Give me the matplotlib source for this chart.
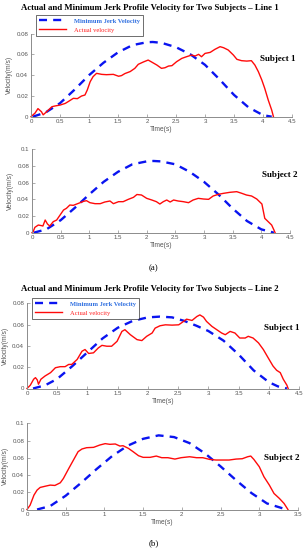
import numpy as np
import matplotlib.pyplot as plt
from matplotlib.ticker import FormatStrFormatter

# ---- data ----
# Line 1, subject 1
l1s1_mj_t = [0.03, 0.25, 0.5, 0.75, 1.0, 1.25, 1.5, 1.75, 2.0, 2.1, 2.25, 2.5, 2.75, 3.0, 3.25, 3.5, 3.75, 4.0, 4.15]
l1s1_mj_v = [0.0, 0.004, 0.013, 0.026, 0.040, 0.052, 0.062, 0.069, 0.0718, 0.072, 0.0712, 0.067, 0.060, 0.050, 0.036, 0.021, 0.009, 0.0015, 0.0]
l1s1_t = [0.0, 0.07, 0.12, 0.18, 0.21, 0.27, 0.36, 0.41, 0.5, 0.59, 0.64, 0.73, 0.8, 0.87, 0.93, 0.97,
          1.02, 1.07, 1.13, 1.22, 1.3, 1.42, 1.51, 1.56, 1.62, 1.71, 1.79, 1.85, 1.94, 2.02, 2.08, 2.17,
          2.25, 2.31, 2.37, 2.43, 2.51, 2.6, 2.68, 2.77, 2.83, 2.89, 2.94, 3.0, 3.09, 3.17, 3.26, 3.32,
          3.4, 3.49, 3.55, 3.63, 3.72, 3.8, 3.86, 3.92, 3.98, 4.03, 4.09, 4.15, 4.18]
l1s1_v = [0.0, 0.0035, 0.0078, 0.0048, 0.0018, 0.0048, 0.0096, 0.0103, 0.0112, 0.0128, 0.0145, 0.0177, 0.0174, 0.0199, 0.0209, 0.0257,
          0.0337, 0.0386, 0.0418, 0.0408, 0.0405, 0.0408, 0.0390, 0.0396, 0.0416, 0.0435, 0.0466, 0.0505, 0.0528, 0.0546, 0.0527, 0.0498,
          0.0466, 0.0472, 0.0488, 0.0492, 0.0530, 0.0562, 0.0578, 0.0594, 0.0585, 0.0601, 0.0578, 0.0610, 0.0620, 0.0649, 0.0675, 0.0665,
          0.0643, 0.0594, 0.0553, 0.0540, 0.0536, 0.0540, 0.0498, 0.0434, 0.0353, 0.0273, 0.0161, 0.0064, 0.0]

# Line 1, subject 2
l1s2_mj_t = [0.03, 0.25, 0.5, 0.75, 1.0, 1.25, 1.5, 1.75, 2.0, 2.12, 2.25, 2.5, 2.75, 3.0, 3.25, 3.5, 3.75, 4.0, 4.22]
l1s2_mj_v = [0.0, 0.004, 0.015, 0.030, 0.046, 0.061, 0.073, 0.082, 0.0855, 0.086, 0.0855, 0.082, 0.073, 0.061, 0.046, 0.029, 0.014, 0.004, 0.0]
l1s2_t = [0.0, 0.02, 0.05, 0.11, 0.17, 0.19, 0.23, 0.27, 0.31, 0.37, 0.43, 0.49, 0.55, 0.6, 0.66, 0.72, 0.81, 0.9, 0.95,
          1.01, 1.1, 1.19, 1.27, 1.36, 1.42, 1.51, 1.59, 1.68, 1.77, 1.83, 1.91, 2.0, 2.09, 2.17, 2.23, 2.29, 2.35,
          2.41, 2.47, 2.55, 2.64, 2.73, 2.81, 2.9, 2.99, 3.08, 3.16, 3.25, 3.34, 3.45, 3.57, 3.66, 3.74, 3.83, 3.92,
          4.01, 4.06, 4.12, 4.18, 4.22, 4.24]
l1s2_v = [0.0, 0.0012, 0.0064, 0.0092, 0.0084, 0.008, 0.0152, 0.0104, 0.008, 0.0132, 0.0152, 0.0212, 0.0272, 0.0292, 0.0332, 0.0328, 0.0352, 0.0376, 0.0384,
          0.036, 0.0348, 0.0348, 0.0368, 0.038, 0.0348, 0.0372, 0.0372, 0.04, 0.0424, 0.0458, 0.0452, 0.0412, 0.0392, 0.0372, 0.0344, 0.0372, 0.0392,
          0.0368, 0.0392, 0.038, 0.0372, 0.036, 0.0392, 0.0412, 0.0404, 0.04, 0.044, 0.046, 0.0472, 0.0484, 0.0492, 0.0472, 0.0452, 0.044, 0.0404,
          0.0344, 0.0172, 0.0132, 0.0092, 0.0032, 0.0]

# Line 2, subject 1
l2s1_mj_t = [0.1, 0.3, 0.5, 0.75, 1.0, 1.25, 1.5, 1.75, 2.0, 2.2, 2.4, 2.6, 2.8, 3.0, 3.25, 3.5, 3.75, 4.0, 4.15, 4.3]
l2s1_mj_v = [0.0, 0.003, 0.009, 0.021, 0.034, 0.047, 0.057, 0.0635, 0.0668, 0.0675, 0.0668, 0.0635, 0.059, 0.054, 0.045, 0.032, 0.017, 0.006, 0.002, 0.0]
l2s1_t = [0.0, 0.055, 0.11, 0.14, 0.17, 0.19, 0.23, 0.3, 0.39, 0.47, 0.55, 0.63, 0.69, 0.74, 0.83, 0.91, 0.96,
          1.02, 1.1, 1.18, 1.24, 1.32, 1.4, 1.49, 1.57, 1.62, 1.71, 1.82, 1.9, 1.98, 2.07, 2.12, 2.2, 2.29,
          2.4, 2.51, 2.59, 2.64, 2.73, 2.81, 2.86, 2.92, 2.97, 3.06, 3.14, 3.22, 3.28, 3.36, 3.44, 3.52, 3.61,
          3.66, 3.74, 3.83, 3.91, 3.99, 4.07, 4.13, 4.19, 4.24, 4.3, 4.32]
l2s1_v = [0.0, 0.0031, 0.0087, 0.0102, 0.008, 0.004, 0.0087, 0.0118, 0.0149, 0.0195, 0.0205, 0.0205, 0.0226, 0.0226, 0.0273, 0.035, 0.0366,
          0.0329, 0.0335, 0.0381, 0.0405, 0.0397, 0.0397, 0.0443, 0.0536, 0.0552, 0.0505, 0.0459, 0.045, 0.049, 0.0521, 0.0567, 0.0589, 0.0598,
          0.0595, 0.0598, 0.063, 0.0651, 0.0639, 0.0676, 0.0691, 0.067, 0.063, 0.0583, 0.0552, 0.0521, 0.0505, 0.0536, 0.0521, 0.0474, 0.0474,
          0.049, 0.0474, 0.0428, 0.0366, 0.0288, 0.0211, 0.0171, 0.0149, 0.0087, 0.0031, 0.0]

# Line 2, subject 2
l2s2_mj_t = [0.13, 0.3, 0.5, 0.7, 0.9, 1.1, 1.3, 1.5, 1.7, 1.9, 2.1, 2.3, 2.5, 2.7, 2.9, 3.1, 3.35]
l2s2_mj_v = [0.0, 0.004, 0.016, 0.031, 0.047, 0.062, 0.074, 0.082, 0.086, 0.084, 0.077, 0.065, 0.050, 0.034, 0.019, 0.007, 0.0]
l2s2_t = [0.0, 0.04, 0.09, 0.13, 0.17, 0.24, 0.3, 0.36, 0.43, 0.47, 0.54, 0.6, 0.66, 0.71, 0.77, 0.86, 0.94,
          1.01, 1.07, 1.14, 1.2, 1.24, 1.31, 1.37, 1.44, 1.5, 1.59, 1.67, 1.74, 1.82, 1.91, 1.99, 2.1, 2.19,
          2.27, 2.36, 2.44, 2.53, 2.61, 2.7, 2.78, 2.85, 2.89, 2.93, 3.0, 3.06, 3.13, 3.19, 3.26, 3.32, 3.37]
l2s2_v = [0.0, 0.005, 0.0167, 0.0225, 0.0256, 0.0271, 0.0283, 0.0279, 0.031, 0.036, 0.0477, 0.0574, 0.0671, 0.0702, 0.0717, 0.0721, 0.0748,
          0.0764, 0.0756, 0.076, 0.0736, 0.074, 0.0709, 0.0671, 0.0624, 0.0605, 0.0605, 0.062, 0.0601, 0.0601, 0.0585, 0.0601, 0.0612, 0.0601,
          0.0601, 0.0581, 0.0574, 0.0574, 0.0574, 0.0585, 0.0589, 0.0612, 0.062, 0.0581, 0.0496, 0.038, 0.0283, 0.0186, 0.0128, 0.007, 0.0]

titles = ["Actual and Minimum Jerk Profile Velocity for Two Subjects \u2013 Line 1",
          "Actual and Minimum Jerk Profile Velocity for Two Subjects \u2013 Line 2"]

W, H = 307, 550
fig = plt.figure(figsize=(W / 100, H / 100), dpi=100)

def px_axes(left, right, top, bottom):
    return fig.add_axes([left / W, 1 - bottom / H, (right - left) / W, (bottom - top) / H])

panels = [
    # (axes px box, xlim, ylim, mj t, mj v, actual t, actual v, subject label, label pos)
    ((31, 292, 33.7, 116.7), 4.5, 0.08, l1s1_mj_t, l1s1_mj_v, l1s1_t, l1s1_v, "Subject 1", (278, 59)),
    ((32, 290, 149.3, 232.7), 4.5, 0.1, l1s2_mj_t, l1s2_mj_v, l1s2_t, l1s2_v, "Subject 2", (280, 175)),
    ((27, 299, 303.3, 388.5), 4.5, 0.08, l2s1_mj_t, l2s1_mj_v, l2s1_t, l2s1_v, "Subject 1", (282, 328)),
    ((27, 298, 423.3, 509.5), 3.5, 0.1, l2s2_mj_t, l2s2_mj_v, l2s2_t, l2s2_v, "Subject 2", (282, 458)),
]

grey = '#555555'
sans = 'Liberation Sans'
serif = 'Liberation Serif'

axes = []
for box, xmax, ymax, mt, mv, at, av, subj, (sx, sy) in panels:
    ax = px_axes(*box)
    mj, = ax.plot(mt, mv, color='#0a14f0', lw=1.7, ls=(0, (3.4, 2.6)), clip_on=False)
    act, = ax.plot(at, av, color='#ff0a0a', lw=1.0, clip_on=False)
    ax.set_xlim(0, xmax)
    ax.set_ylim(0, ymax)
    ax.set_xticks(np.arange(0, xmax + 0.01, 0.5))
    ax.set_yticks(np.arange(0, ymax + 0.001, 0.02))
    ax.xaxis.set_major_formatter(FormatStrFormatter('%g'))
    ax.yaxis.set_major_formatter(FormatStrFormatter('%g'))
    for s in ['top', 'right']:
        ax.spines[s].set_visible(False)
    for s in ['left', 'bottom']:
        ax.spines[s].set_color('#8c8c8c')
        ax.spines[s].set_linewidth(0.7)
    ax.tick_params(direction='in', length=2, width=0.5, colors='#8c8c8c',
                   labelcolor=grey, labelsize=4.4, pad=2)
    for lab in ax.get_xticklabels() + ax.get_yticklabels():
        lab.set_family(sans)
    ax.set_xlabel("Time(s)", fontsize=4.8, color=grey, family=sans, labelpad=1)
    ax.set_ylabel("Velocity(m/s)", fontsize=4.8, color=grey, family=sans, labelpad=2)
    fig.text(sx / W, 1 - sy / H, subj, ha='center', va='center', fontsize=6.5,
             fontweight='bold', family=serif)
    axes.append((ax, mj, act))

for (ax, mj, act), top, left in [(axes[0], 15, 36), (axes[2], 298, 32)]:
    leg = fig.legend([mj, act], ["Minimum Jerk Velocity", "Actual velocity"],
                     loc='upper left', bbox_to_anchor=(left / W, 1 - top / H),
                     fontsize=4.7, frameon=True, fancybox=False, edgecolor='black',
                     borderpad=0.45, handlelength=4.2, handletextpad=1.2,
                     labelspacing=0.55, borderaxespad=0)
    leg.get_frame().set_linewidth(0.5)
    t1, t2 = leg.get_texts()
    t1.set_color('#2f6fe0')
    t1.set_fontweight('bold')
    t1.set_family(serif)
    t2.set_color('#ff2020')
    t2.set_family(serif)

fig.text(150 / W, 1 - 7.5 / H, titles[0], ha='center', va='center', fontsize=6.3,
         fontweight='bold', family=serif)
fig.text(150 / W, 1 - 289 / H, titles[1], ha='center', va='center', fontsize=6.3,
         fontweight='bold', family=serif)
fig.text(153 / W, 1 - 268 / H, "(a)", ha='center', va='center', fontsize=6.3, family=serif)
fig.text(154 / W, 1 - 543 / H, "(b)", ha='center', va='center', fontsize=6.3, family=serif)

fig.savefig("out.png", dpi=100)
